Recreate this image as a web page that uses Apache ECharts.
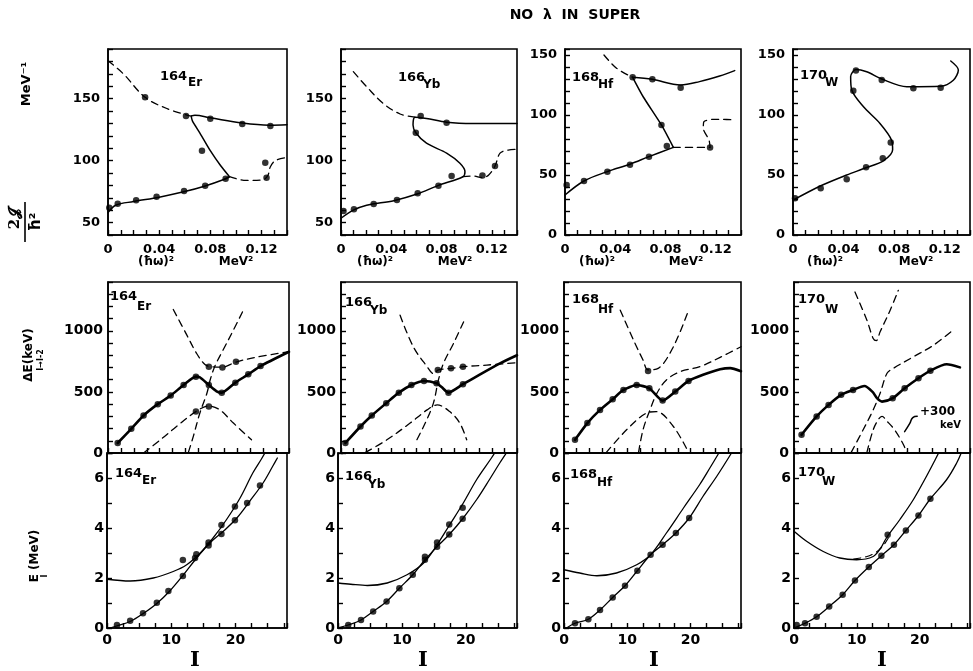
<!DOCTYPE html>
<html><head><meta charset="utf-8">
<script src="https://cdn.jsdelivr.net/npm/echarts/dist/echarts.min.js"></script>
<style>html,body{margin:0;padding:0;background:#fff}#c{width:973px;height:671px}</style>
</head><body><div id="c"></div><script>
// ---------- top row: 2J/hbar^2 vs (hbar omega)^2 ----------
const er_q_pts = [[0.001,62],[0.0076,65.2],[0.022,68],[0.038,70.9],[0.0595,75.5],[0.076,79.8],[0.092,85.4],[0.0735,108],[0.029,151],[0.061,136],[0.080,133.8],[0.105,129.5],[0.127,128],[0.123,98.3],[0.124,86.2]];
const er_q_low = [[0,58],[0.006,64],[0.02,67],[0.04,70.5],[0.06,75],[0.076,79.5],[0.09,84.5],[0.095,87]];
const er_q_back = [[0.095,87],[0.088,96],[0.08,108],[0.072,122],[0.066,132],[0.065,136]];
const er_q_up = [[0.065,136],[0.068,136.5],[0.08,134.5],[0.105,130.3],[0.126,128.6],[0.14,129]];
const er_q_dash1 = [[0,180.5],[0.012,170],[0.029,151],[0.046,142],[0.064,136]];
const er_q_dash2 = [[0.095,87],[0.108,84],[0.121,84.5],[0.125,88],[0.127,95],[0.131,100],[0.14,102.5]];

const yb_q_pts = [[0.002,59.4],[0.0103,60.7],[0.026,65],[0.0445,68.2],[0.061,73.6],[0.0775,79.8],[0.088,87.6],[0.0595,122.5],[0.0634,136],[0.084,130.6],[0.1125,88],[0.1225,95.6]];
const yb_q_solid = [[0,53.5],[0.0098,60],[0.0204,64],[0.042,67.7],[0.0605,73],[0.0775,80],[0.097,87],[0.0986,91],[0.0946,97.8],[0.084,106],[0.068,114],[0.0595,122.5],[0.0573,128.7],[0.0588,135],[0.068,134],[0.084,131],[0.105,130],[0.1265,130],[0.14,130]];
const yb_q_dash1 = [[0.0098,171.7],[0.0204,159.6],[0.0337,146],[0.047,137.6],[0.0588,135]];
const yb_q_dash2 = [[0.097,87],[0.105,87.6],[0.1125,86.2],[0.1175,88.4],[0.1225,95.6],[0.1265,106],[0.133,108.5],[0.14,109]];

const hf_q_pts = [[0.0013,41.7],[0.0151,45],[0.0337,52.8],[0.0517,58.6],[0.0668,65.3],[0.081,74.2],[0.0767,91.7],[0.0538,131.4],[0.0695,129.7],[0.092,122.7],[0.1154,73]];
const hf_q_low = [[0,33.3],[0.0151,45],[0.0337,52.8],[0.0517,59],[0.0668,65.3],[0.0862,73]];
const hf_q_back = [[0.0862,73],[0.0767,91.7],[0.0623,115],[0.0538,131.4]];
const hf_q_up = [[0.0538,131.4],[0.0695,129.7],[0.092,125],[0.107,127.8],[0.123,132.5],[0.135,137]];
const hf_q_dash1 = [[0.031,150],[0.041,139],[0.0538,131.4]];
const hf_q_dash2 = [[0.0862,73],[0.102,73],[0.1154,73],[0.1146,79],[0.110,89],[0.1105,94.4],[0.118,96.4],[0.123,96.4],[0.135,96]];

const w_q_pts = [[0.0016,30.6],[0.0219,38.9],[0.0425,46.4],[0.0578,56.4],[0.071,64],[0.0773,77],[0.0477,120.3],[0.0498,137],[0.0702,129.2],[0.0952,122.2],[0.1168,122.8]];
const w_q_solid = [[0,29],[0.022,41],[0.0425,50],[0.0578,56],[0.0717,62],[0.0788,71],[0.078,79],[0.0688,93],[0.0556,107],[0.0464,121],[0.0456,132],[0.0498,138],[0.0583,136],[0.0702,130],[0.090,123.6],[0.1168,124],[0.1268,129],[0.1308,137.5],[0.1248,145]];

// ---------- middle row: Delta E (keV) vs I ----------
const er_d_pts = [[1.5,82],[3.6,198],[5.5,307],[7.7,400],[9.7,470],[11.7,557],[13.6,625],[15.6,557],[17.6,494],[19.7,576],[21.7,644],[23.6,712],[15.6,707],[17.7,701],[19.8,747],[15.6,380],[13.6,339]];
const er_d_solid = [[1.5,82],[3.6,198],[5.5,307],[7.7,400],[9.7,470],[11.7,557],[13.6,625],[14.2,620],[15.6,557],[16.8,505],[17.6,494],[19.7,576],[21.7,644],[23.6,712],[28,829]];
const er_d_dash1 = [[10.1,1175],[12.2,965],[13.7,816],[15,725],[16,707],[17.7,703],[19.8,745],[23,785],[28,829]];
const er_d_dash2 = [[20.8,1155],[19.4,1006],[17.8,843],[16.5,707],[15.8,598],[15.3,489],[14.2,326],[13.2,136],[12.4,0]];
const er_d_dash3 = [[5.5,0],[8.1,108],[10.6,217],[13.6,339],[15.6,385],[17.3,353],[19.4,245],[22.2,108]];

const yb_d_pts = [[0.7,82],[3.1,217],[4.9,307],[7.2,408],[9.2,494],[11.2,557],[13.2,590],[15.2,571],[17.1,494],[19.4,563],[15.4,680],[17.5,693],[19.4,707]];
const yb_d_solid = [[0.7,82],[3.1,217],[4.9,307],[7.2,408],[9.2,494],[11.2,557],[13.2,590],[15.2,571],[16,540],[17.1,494],[19.4,563],[22,640],[25.3,734],[28,800]];
const yb_d_dash1 = [[9.4,1128],[11.5,870],[13.7,707],[14.7,650],[15.5,680],[17.6,693],[19.5,707],[23.2,720],[28,740]];
const yb_d_dash2 = [[19.5,1073],[17.9,897],[16.3,734],[15.5,598],[14.7,408],[13.4,245],[11.8,82]];
const yb_d_dash3 = [[3.9,5],[7.3,108],[11,245],[13.7,353],[15.3,394],[17.3,339],[18.9,245],[20,108]];

const hf_d_pts = [[1.74,108],[3.7,245],[5.7,353],[7.7,440],[9.4,516],[11.5,557],[13.5,530],[15.6,429],[17.6,503],[19.7,590],[13.3,672]];
const hf_d_solid = [[1.74,108],[3.7,245],[5.7,353],[7.7,440],[9.4,516],[11.5,557],[13.5,530],[15.6,429],[17.6,503],[19.7,590],[22,640],[24.7,685],[26.3,695],[28,670]];
const hf_d_dash1 = [[8.9,1169],[11,924],[12.5,761],[13.3,680],[14.9,693],[17.3,870],[19.7,1169]];
const hf_d_dash2 = [[11.8,5],[12.5,190],[13.6,353],[14.7,489],[16.2,598],[18.4,666],[21.5,707],[24.7,783],[28,870]];
const hf_d_dash3 = [[6.7,5],[9.9,190],[13,326],[14.6,339],[17.3,217],[19.7,5]];

const w_d_pts = [[1.2,149],[3.6,299],[5.5,394],[7.5,476],[9.4,516],[15.7,449],[17.6,530],[19.8,612],[21.7,674]];
const w_d_solid = [[1.2,149],[3.6,299],[5.5,394],[7.5,476],[9.4,516],[11.2,548],[12.5,500],[13.2,449],[14,421],[15.7,449],[17.6,530],[19.8,612],[21.7,674],[24.3,726],[26.4,701]];
const w_d_dash1 = [[9.7,1318],[11.6,1087],[12.6,938],[13.1,920],[13.7,992],[15.3,1169],[16.6,1332]];
const w_d_dash2 = [[9.1,5],[11,190],[12.6,353],[13.7,489],[14.8,653],[15.8,693],[19,788],[22.2,883],[25.4,1011]];
const w_d_dash3 = [[11.6,5],[12.6,190],[13.5,280],[14,300],[14.8,260],[16,190],[17.4,70],[17.9,5]];
const w_d_arrow = [[19.6,300],[18.9,290],[18.4,240],[17.6,175]];

// ---------- bottom row: E_I (MeV) vs I ----------
const er_e_pts = [[1.55,0.12],[3.6,0.29],[5.6,0.59],[7.75,1.01],[9.55,1.48],[11.8,2.08],[13.7,2.8],[15.8,3.3],[17.8,3.76],[19.9,4.31],[21.8,5.0],[23.8,5.7],[11.8,2.72],[13.9,2.95],[15.8,3.42],[17.8,4.12],[19.9,4.86]];
const er_e_A = [[0,1.95],[3.6,1.88],[7.2,2.0],[10.3,2.26],[12.4,2.53],[14.5,3.0],[16.5,3.6],[18.6,4.34],[20.7,5.2],[22.7,6.21],[24,6.75],[25,7.2]];
const er_e_B = [[0.5,0],[1.5,0.08],[3.6,0.26],[5.7,0.59],[7.75,0.98],[9.8,1.49],[11.9,2.13],[13.95,2.8],[16,3.4],[18.1,3.87],[20.2,4.4],[22.2,5.07],[24.3,5.81],[25.8,6.48],[26.5,6.8]];

const yb_e_pts = [[1.6,0.12],[3.6,0.32],[5.5,0.66],[7.6,1.06],[9.6,1.59],[11.7,2.13],[13.6,2.73],[15.5,3.25],[17.4,3.74],[19.5,4.37],[13.6,2.85],[15.5,3.42],[17.4,4.14],[19.5,4.81]];
const yb_e_A = [[0,1.8],[2,1.75],[4.6,1.7],[7.7,1.8],[10.8,2.13],[13.4,2.6],[15.5,3.33],[17.5,4.14],[19.6,5.0],[21.7,5.94],[24,6.8],[25,7.2]];
const yb_e_B = [[0,0],[1.6,0.12],[3.6,0.32],[5.5,0.66],[7.6,1.06],[9.6,1.59],[11.7,2.13],[13.6,2.73],[15.5,3.25],[17.4,3.74],[19.5,4.37],[21.7,5.14],[23.7,5.94],[25.3,6.6],[26.6,7.1]];

const hf_e_pts = [[1.74,0.19],[3.85,0.35],[5.7,0.72],[7.7,1.22],[9.65,1.69],[11.6,2.29],[13.7,2.93],[15.6,3.33],[17.7,3.8],[19.8,4.4]];
const hf_e_A = [[0,2.33],[2.5,2.2],[5.2,2.09],[8.3,2.2],[11.5,2.53],[13.7,2.93],[16.2,3.8],[18.9,4.8],[21.5,5.75],[23.1,6.41],[24.5,7.0]];
const hf_e_B = [[0.4,0],[1.74,0.19],[3.85,0.35],[5.7,0.72],[7.7,1.22],[9.65,1.69],[11.6,2.29],[13.7,2.93],[15.6,3.33],[17.7,3.8],[19.8,4.4],[22,5.27],[24.2,6.08],[26.5,7.0]];

const w_e_pts = [[0.43,0.12],[1.75,0.19],[3.6,0.45],[5.6,0.86],[7.74,1.33],[9.7,1.9],[11.9,2.44],[13.9,2.89],[15.9,3.33],[17.8,3.9],[19.8,4.5],[21.7,5.17],[14.9,3.73]];
const w_e_A = [[0,3.87],[2,3.47],[4.66,3.06],[7.3,2.8],[9.97,2.73],[12.6,2.86],[13.8,3.2],[14.7,3.6],[16.85,4.34],[19,5.14],[21.1,6.08],[22.5,6.75],[23.2,7.1]];
const w_e_dash = [[9.5,2.76],[11.5,2.85],[13,3.02],[14.2,3.3],[15,3.6]];
const w_e_B = [[0,0],[1.75,0.19],[3.6,0.45],[5.6,0.86],[7.74,1.33],[9.7,1.9],[11.9,2.44],[13.9,2.89],[15.9,3.33],[17.8,3.9],[19.8,4.5],[21.7,5.17],[24.3,5.94],[25.9,6.61],[26.6,7.0]];

// ---------- axis definitions ----------
const qTicks = [0, 0.04, 0.08, 0.12];
const qLabels = ['0', '0.04', '0.08', '0.12'];
const jLabels = [0, 50, 100, 150];
const dLabels = [0, 500, 1000];
const eLabels = [0, 2, 4, 6];
const iLabels = [0, 10, 20];
const nuclei = [['164','Er'],['166','Yb'],['168','Hf'],['170','W']];

// layout of the 12 frames: [left, right, top, bottom]
const frames = [
  [108,287,49,235],[341,517,49,235],[565,741,49,235],[793,970,49,235],
  [108,289,282,453],[341,517,282,453],[564,741,282,453],[794,970,282,453],
  [107,287,453,628],[338,517,453,628],[564,741,453,628],[794,970,453,628]
];
const yRanges = [[40,190],[40,190],[0,155],[0,155],[0,1400],[0,1400],[0,1400],[0,1400],[0,7],[0,7],[0,7],[0,7]];

const FONT = 'DejaVu Sans';
const lblStyle = {color:'#000', fontFamily:FONT, fontWeight:'bold', fontSize:13};

const grids = [], xAxes = [], yAxes = [], series = [];
frames.forEach((f, i) => {
  const row = Math.floor(i / 4);
  grids.push({left:f[0], top:f[2], width:f[1]-f[0], height:f[3]-f[2], show:true, borderColor:'#000', borderWidth:1.6, backgroundColor:'transparent'});
  const base = {gridIndex:i, type:'value', splitLine:{show:false},
    axisLine:{show:true, onZero:false, lineStyle:{color:'#000', width:1.6}},
    axisTick:{show:true, inside:true, length:5, lineStyle:{color:'#000', width:1.4}}};
  if (row === 0) {
    xAxes.push(Object.assign({}, base, {min:0, max:0.14, interval:0.01,
      axisLabel:Object.assign({}, lblStyle, {margin:8, formatter:v => {const k = qTicks.findIndex(t => Math.abs(t - v) < 1e-6); return k >= 0 ? qLabels[k] : '';}})}));
    yAxes.push(Object.assign({}, base, {min:yRanges[i][0], max:yRanges[i][1], interval:10,
      axisLabel:Object.assign({}, lblStyle, {margin:8, formatter:v => jLabels.includes(Math.round(v)) && Math.abs(v-Math.round(v))<1e-6 ? String(Math.round(v)) : ''})}));
  } else if (row === 1) {
    xAxes.push(Object.assign({}, base, {min:0, max:28, interval:2, axisLabel:{show:false}}));
    yAxes.push(Object.assign({}, base, {min:0, max:1400, interval:100,
      axisLabel:Object.assign({}, lblStyle, {fontSize:14, margin:5, formatter:v => dLabels.includes(v) ? String(v) : ''})}));
  } else {
    xAxes.push(Object.assign({}, base, {min:0, max:28, interval:2.5,
      axisLabel:Object.assign({}, lblStyle, {fontSize:14, margin:5, formatter:v => iLabels.includes(v) ? String(v) : ''})}));
    yAxes.push(Object.assign({}, base, {min:0, max:7, interval:1,
      axisLabel:Object.assign({}, lblStyle, {fontSize:14, margin:3, formatter:v => eLabels.includes(v) ? String(v) : ''})}));
  }
});

function line(data, gi, width, dashed, smooth) {
  series.push({type:'line', xAxisIndex:gi, yAxisIndex:gi, data:data, symbol:'none', silent:true,
    smooth:(smooth === undefined ? 0.35 : smooth), clip:true,
    lineStyle:{color:'#000', width:width, type:dashed ? [7,5] : 'solid', cap:'round', join:'round'}});
}
function pts(data, gi) {
  series.push({type:'scatter', xAxisIndex:gi, yAxisIndex:gi, data:data, symbol:'circle', symbolSize:6.5, silent:true, itemStyle:{color:'#000'}});
}

// top row
line(er_q_low,0,1.5,false); line(er_q_back,0,1.5,false,0.2); line(er_q_up,0,1.5,false);
line(er_q_dash1,0,1.3,true); line(er_q_dash2,0,1.3,true); pts(er_q_pts,0);
line(yb_q_solid,1,1.5,false,0.3); line(yb_q_dash1,1,1.3,true); line(yb_q_dash2,1,1.3,true); pts(yb_q_pts,1);
line(hf_q_low,2,1.5,false); line(hf_q_back,2,1.5,false,0.2); line(hf_q_up,2,1.5,false);
line(hf_q_dash1,2,1.3,true); line(hf_q_dash2,2,1.3,true,0.25); pts(hf_q_pts,2);
line(w_q_solid,3,1.5,false,0.3); pts(w_q_pts,3);
// middle row
line(er_d_solid,4,2.6,false,0.2); line(er_d_dash1,4,1.3,true); line(er_d_dash2,4,1.3,true); line(er_d_dash3,4,1.3,true); pts(er_d_pts,4);
line(yb_d_solid,5,2.6,false,0.2); line(yb_d_dash1,5,1.3,true); line(yb_d_dash2,5,1.3,true); line(yb_d_dash3,5,1.3,true); pts(yb_d_pts,5);
line(hf_d_solid,6,2.6,false,0.2); line(hf_d_dash1,6,1.3,true); line(hf_d_dash2,6,1.3,true); line(hf_d_dash3,6,1.3,true); pts(hf_d_pts,6);
line(w_d_solid,7,2.6,false,0.25); line(w_d_dash1,7,1.3,true); line(w_d_dash2,7,1.3,true); line(w_d_dash3,7,1.3,true); line(w_d_arrow,7,1.5,false,0.5); pts(w_d_pts,7);
// bottom row
line(er_e_A,8,1.3,false); line(er_e_B,8,1.3,false); pts(er_e_pts,8);
line(yb_e_A,9,1.3,false); line(yb_e_B,9,1.3,false); pts(yb_e_pts,9);
line(hf_e_A,10,1.3,false); line(hf_e_B,10,1.3,false); pts(hf_e_pts,10);
line(w_e_A,11,1.3,false); line(w_e_dash,11,1.2,true); line(w_e_B,11,1.3,false); pts(w_e_pts,11);

// ---------- text ----------
const graphic = [];
function txt(s, x, y, size, align) {
  graphic.push({type:'text', x:x, y:y, silent:true,
    style:{text:s, font:'bold ' + size + 'px "' + FONT + '"', fill:'#000', textAlign:align || 'left', textVerticalAlign:'middle'}});
}
txt('NO  λ  IN  SUPER', 575, 15, 14, 'center');
// nucleus labels [massX, massY, symX, symY]
const labelPos = [
  [160,77,188,83],[398,78,423,85],[572,78,598,85],[800,76,825,83],
  [110,297,137,307],[345,303,370,311],[572,300,598,310],[798,300,825,310],
  [115,474,142,481],[345,477,368,485],[570,475,597,483],[798,473,822,482]
];
labelPos.forEach((p, i) => {
  const n = nuclei[i % 4];
  txt(n[0], p[0], p[1], 13);
  txt(n[1], p[2], p[3], 12);
});
// top-row axis names (centres of "(ħω)²" and "MeV²")
const qNamePos = [[156,236],[375,455],[597,686],[825,916]];
qNamePos.forEach(p => {
  txt('(ħω)²', p[0], 262, 12, 'center');
  txt('MeV²', p[1], 262, 12, 'center');
});
// I below bottom row
[195, 423, 654, 882].forEach(x => {
  graphic.push({type:'text', x:x, y:661, silent:true, style:{text:'I', font:'bold 21px "DejaVu Serif"', fill:'#000', textAlign:'center', textVerticalAlign:'middle'}});
});
// rotated y-axis names
function rtxt(s, x, y, size, fam) {
  graphic.push({type:'text', x:x, y:y, rotation:Math.PI/2, silent:true,
    style:{text:s, font:'bold ' + size + 'px "' + (fam || FONT) + '"', fill:'#000', textAlign:'center', textVerticalAlign:'middle'}});
}
rtxt('MeV⁻¹', 27, 84, 13);
rtxt('2𝓙', 15, 219, 15, 'DejaVu Serif');
graphic.push({type:'line', silent:true, shape:{x1:25, y1:202, x2:25, y2:242}, style:{stroke:'#000', lineWidth:1.6}});
rtxt('ħ²', 36, 222, 15);
rtxt('ΔE(keV)', 29, 355, 12);
rtxt('I→I-2', 41, 360, 8);
rtxt('E (MeV)', 35, 556, 12);
rtxt('I', 45, 576, 8);
// +300 keV note
txt('+300', 920, 412, 12);
txt('keV', 940, 425, 10);

const chart = echarts.init(document.getElementById('c'), null, {renderer:'canvas'});
chart.setOption({animation:false, backgroundColor:'#fff', grid:grids, xAxis:xAxes, yAxis:yAxes, series:series, graphic:graphic});
</script></body></html>
